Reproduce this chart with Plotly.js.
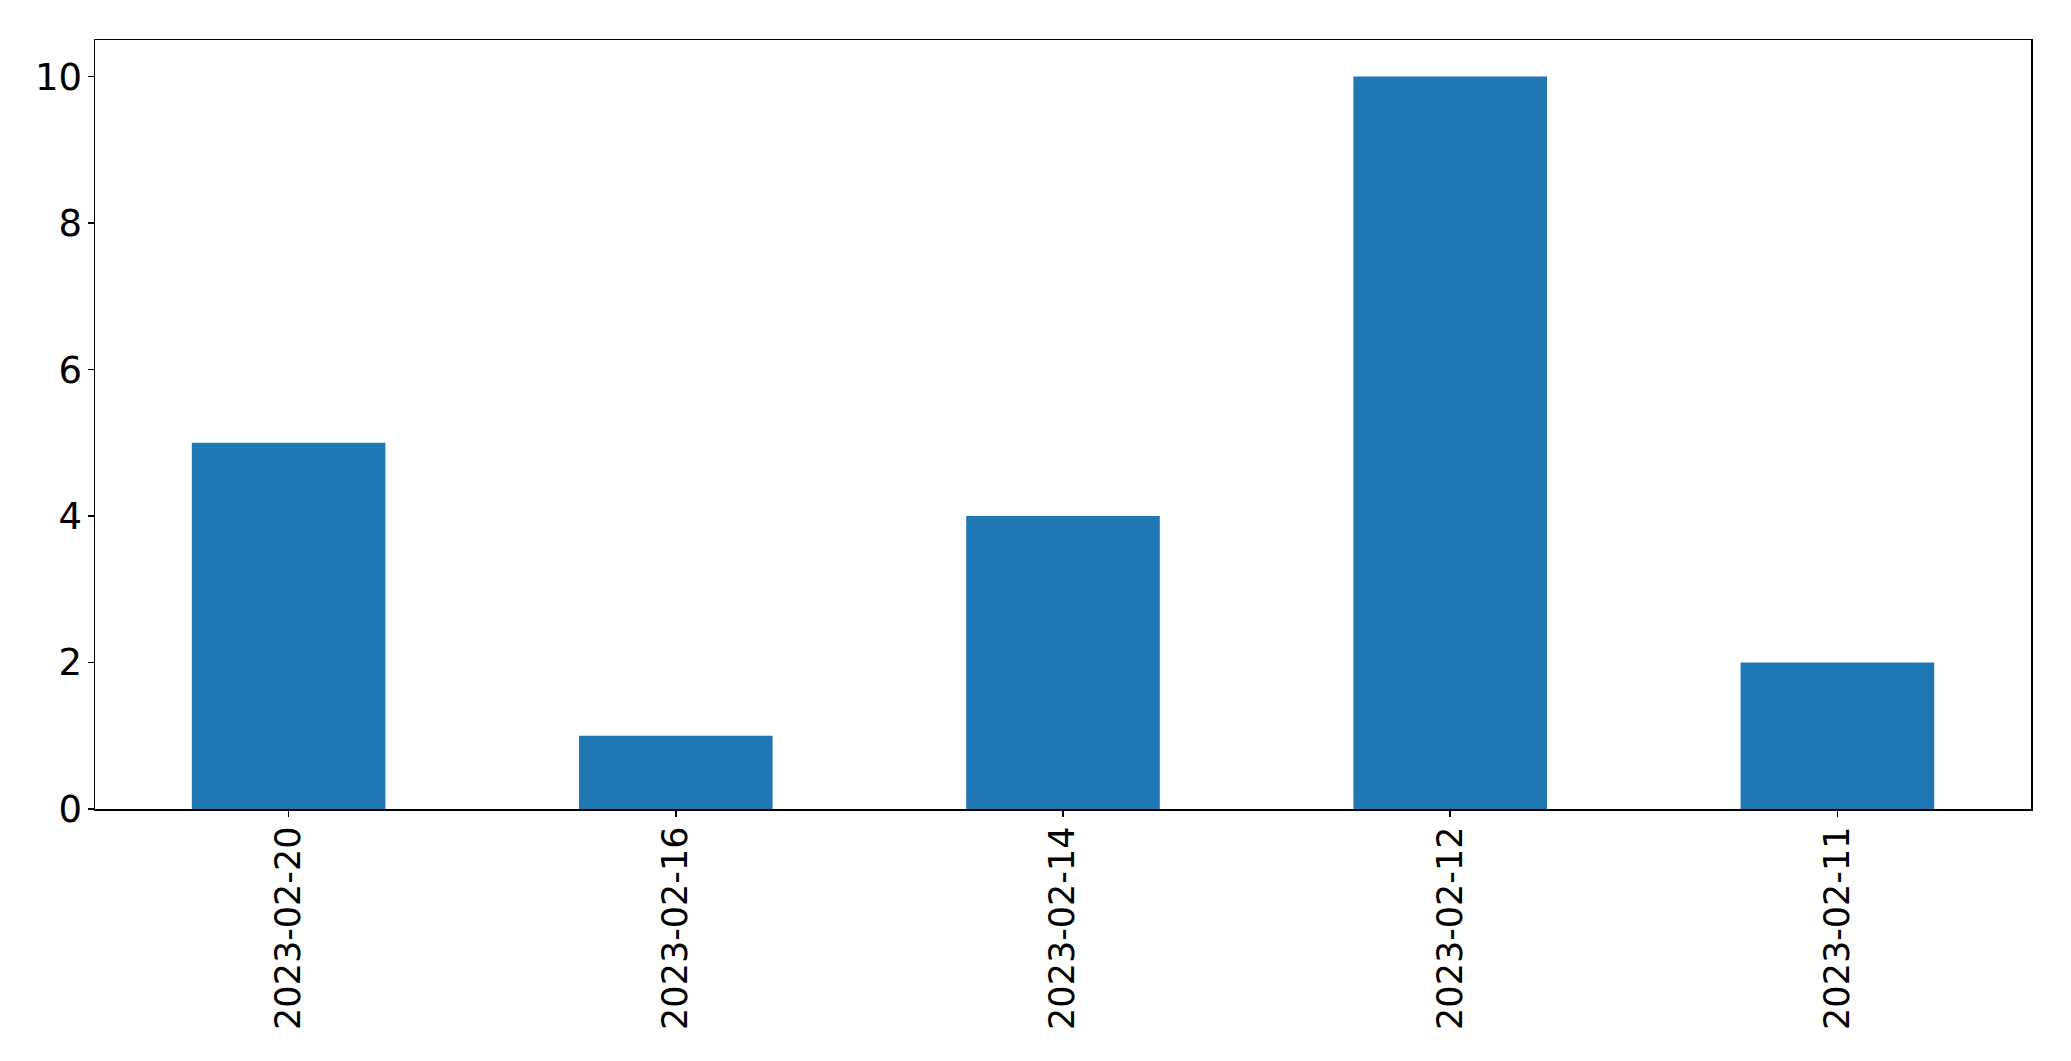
<!DOCTYPE html>
<html>
<head>
<meta charset="utf-8">
<script src="https://cdn.plot.ly/plotly-3.0.1.min.js"></script>
<style>html,body{margin:0;padding:0;background:#fff;}#chart{width:2071px;height:1061px;}</style>
</head>
<body>
<div id="chart"></div>
<script>
const categories = ["2023-02-20", "2023-02-16", "2023-02-14", "2023-02-12", "2023-02-11"];
const counts = [5, 1, 4, 10, 2];
const yTicks = [0, 2, 4, 6, 8, 10];

const trace = {
  type: 'bar',
  x: categories,
  y: counts,
  marker: {color: '#1f77b4', line: {width: 0}},
  hoverinfo: 'x+y'
};

const layout = {
  width: 2071,
  height: 1061,
  margin: {l: 94.5, r: 40, t: 39.5, b: 252, pad: 0},
  paper_bgcolor: '#fff',
  plot_bgcolor: '#fff',
  bargap: 0.5,
  showlegend: false,
  xaxis: {
    type: 'category',
    range: [-0.5, categories.length - 0.5],
    tickangle: -90,
    tickfont: {family: 'DejaVu Sans', size: 35, color: '#000'},
    ticklabelstandoff: -4,
    showline: true, linecolor: '#000', linewidth: 1.5, mirror: true,
    ticks: 'outside', ticklen: 6, tickwidth: 1.5, tickcolor: '#000',
    showgrid: false, zeroline: false
  },
  yaxis: {
    range: [0, 10.5],
    tickvals: yTicks,
    ticktext: yTicks.map(String),
    tickfont: {family: 'DejaVu Sans', size: 37, color: '#000'},
    ticklabelstandoff: -2,
    showline: true, linecolor: '#000', linewidth: 1.5, mirror: true,
    ticks: 'outside', ticklen: 6, tickwidth: 1.5, tickcolor: '#000',
    showgrid: false, zeroline: false
  }
};

Plotly.newPlot('chart', [trace], layout, {displayModeBar: false, staticPlot: true});
</script>
</body>
</html>
